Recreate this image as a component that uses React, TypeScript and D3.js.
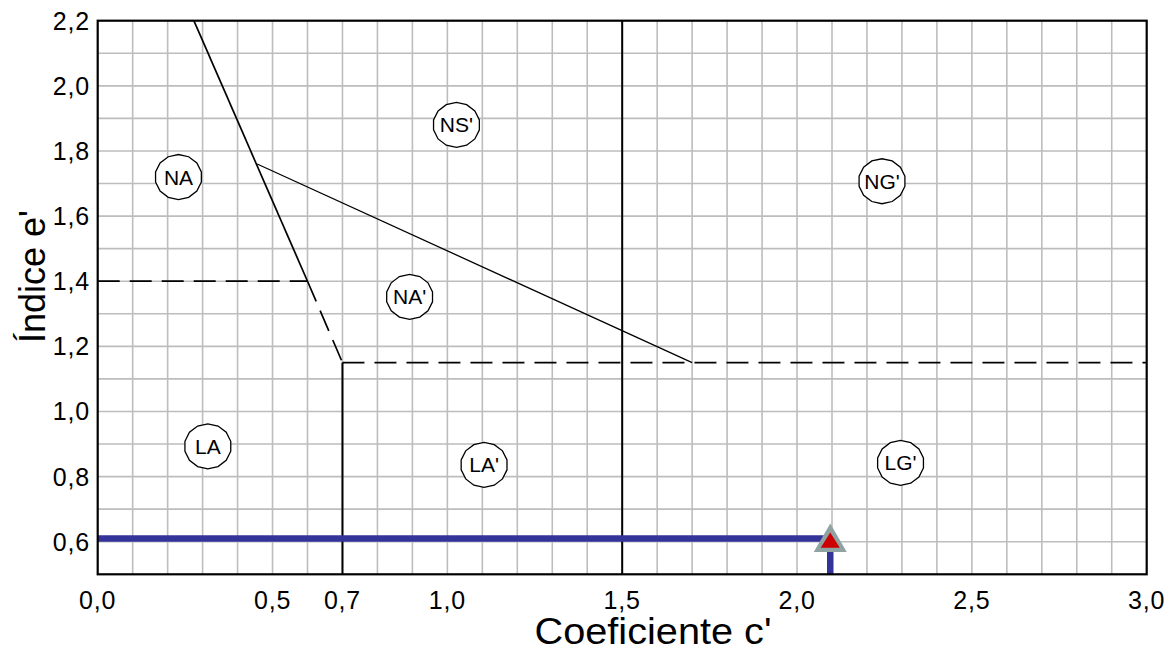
import React from "react";
import * as d3 from "d3";

// ---- data ----
const xTickValues = [0.0, 0.5, 0.7, 1.0, 1.5, 2.0, 2.5, 3.0];
const yTickValues = [0.6, 0.8, 1.0, 1.2, 1.4, 1.6, 1.8, 2.0, 2.2];
const xDomain = [0, 3];
const yDomain = [0.5, 2.2];

// region labels
const regionNames = ["NA", "NS'", "NG'", "NA'", "LA", "LA'", "LG'"];
const regionC = [0.231, 1.026, 2.243, 0.892, 0.315, 1.105, 2.296];
const regionE = [1.72, 1.88, 1.707, 1.352, 0.893, 0.836, 0.842];

// boundary lines: [c1, e1, c2, e2]
const solidLines = [
  [0.275, 2.2, 0.6, 1.4],
  [0.456, 1.76, 1.7, 1.15],
];
const thickLines = [
  [0.7, 0.5, 0.7, 1.15],
  [1.5, 0.5, 1.5, 2.2],
];
const dashedLines = [
  [0.0, 1.4, 0.6, 1.4],
  [0.6, 1.4, 0.7, 1.15],
  [0.7, 1.15, 3.0, 1.15],
];

// measured sample point
const pointC = 2.095;
const pointE = 0.61;

const W = 1169;
const H = 651;
const left = 97.7;
const right = 1146.7;
const top = 20.7;
const bottom = 574.3;
const FONT = "'Liberation Sans', Arial, Helvetica, sans-serif";

export default function App() {
  const x = d3.scaleLinear().domain(xDomain).range([left, right]);
  const y = d3.scaleLinear().domain(yDomain).range([bottom, top]);
  const fmt = (v: number) => d3.format(".1f")(v).replace(".", ",");

  const xGrid = d3.range(1, 30).map((i) => i / 10);
  const yGrid = d3.range(6, 22).map((i) => i / 10);

  // polygon "circle" around labels
  const nSides = 14;
  const poly = (cx: number, cy: number, rx: number, ry: number) =>
    d3
      .range(nSides)
      .map((i) => {
        const a = (i / nSides) * Math.PI * 2 + Math.PI / nSides;
        return `${cx + rx * Math.cos(a)},${cy + ry * Math.sin(a)}`;
      })
      .join(" ");

  const line = d3.line<[number, number]>().x((d) => x(d[0])).y((d) => y(d[1]));

  const px = x(pointC);
  const py = y(pointE);

  return (
    <svg
      width={W}
      height={H}
      style={{ position: "fixed", left: 0, top: 0, background: "#fff" }}
      fontFamily={FONT}
    >
      <rect x={0} y={0} width={W} height={H} fill="#fff" />
      {/* grid */}
      <g stroke="#bdbdbd" strokeWidth={1.6}>
        {xGrid.map((v) => (
          <line key={"gx" + v} x1={x(v)} x2={x(v)} y1={top} y2={bottom} />
        ))}
        {yGrid.map((v) => (
          <line key={"gy" + v} x1={left} x2={right} y1={y(v)} y2={y(v)} />
        ))}
      </g>

      {/* boundaries */}
      <g stroke="#000" fill="none">
        {thickLines.map((s, i) => (
          <path key={"t" + i} d={line([[s[0], s[1]], [s[2], s[3]]])!} strokeWidth={2} />
        ))}
        <path d={line([[solidLines[0][0], solidLines[0][1]], [solidLines[0][2], solidLines[0][3]]])!} strokeWidth={1.7} />
        <path d={line([[solidLines[1][0], solidLines[1][1]], [solidLines[1][2], solidLines[1][3]]])!} strokeWidth={1.3} />
        {dashedLines.map((s, i) => (
          <path
            key={"d" + i}
            d={line([[s[0], s[1]], [s[2], s[3]]])!}
            strokeWidth={1.7}
            strokeDasharray="22,10"
          />
        ))}
      </g>

      {/* region labels */}
      {regionNames.map((name, i) => {
        const cx = x(regionC[i]);
        const cy = y(regionE[i]);
        return (
          <g key={name}>
            <polygon points={poly(cx, cy, 23.5, 22.5)} fill="#fff" stroke="#000" strokeWidth={1.3} />
            <text x={cx} y={cy} dy="0.36em" textAnchor="middle" fontSize={21} fill="#000">
              {name}
            </text>
          </g>
        );
      })}

      {/* sample path */}
      <g stroke="#333399" strokeWidth={6.5} fill="none">
        <path d={line([[0, pointE], [pointC, pointE]])!} />
        <path d={line([[pointC, yDomain[0]], [pointC, pointE]])!} />
      </g>
      <g transform={`translate(${px},${py})`}>
        <polygon points="0,-15 16.5,13.5 -16.5,13.5" fill="#8fa3a3" />
        <polygon points="0,-6 9.5,9.3 -9.5,9.3" fill="#cc0000" />
      </g>

      {/* frame */}
      <rect x={left} y={top} width={right - left} height={bottom - top} fill="none" stroke="#000" strokeWidth={2.2} />

      {/* tick labels */}
      {yTickValues.map((v) => (
        <text key={"yl" + v} x={90} y={y(v)} dy="0.36em" textAnchor="end" fontSize={25} letterSpacing={0.8} fill="#000">
          {fmt(v)}
        </text>
      ))}
      {xTickValues.map((v) => (
        <text key={"xl" + v} x={x(v)} y={609} textAnchor="middle" fontSize={25} letterSpacing={0.8} fill="#000">
          {fmt(v)}
        </text>
      ))}

      {/* axis titles */}
      <text x={653} y={644} textAnchor="middle" fontSize={37} textLength={237} lengthAdjust="spacingAndGlyphs" fill="#000">
        Coeficiente c'
      </text>
      <text transform="translate(45,276.5) rotate(-90)" textAnchor="middle" fontSize={36} fill="#000">
        Índice e'
      </text>
    </svg>
  );
}
